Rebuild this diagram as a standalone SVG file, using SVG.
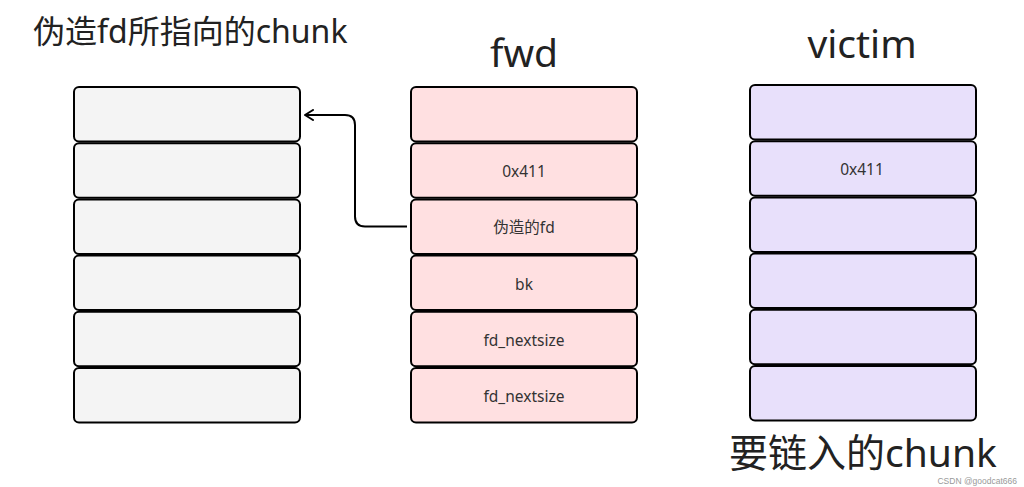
<svg xmlns="http://www.w3.org/2000/svg" width="1024" height="487" viewBox="0 0 1024 487">
<style>
.cell{stroke:#000;stroke-width:2;}
.l{fill:#f4f4f4;}
.f{fill:#ffe0e1;}
.v{fill:#e8e0fb;}
.t{font-family:"Noto Sans","Noto Sans CJK SC",sans-serif;fill:#222;}
.c{font-family:"Noto Sans","Noto Sans CJK SC",sans-serif;font-size:15.5px;fill:#333;text-anchor:middle;}
.conn{fill:none;stroke:#000;stroke-width:2;}
</style>
<defs>
<marker id="arr" markerWidth="12" markerHeight="12" refX="10" refY="6" orient="auto" markerUnits="userSpaceOnUse">
<path d="M2,1 L10,6 L2,11" fill="none" stroke="#000" stroke-width="2" stroke-linecap="round" stroke-linejoin="round"/>
</marker>
</defs>
<rect width="1024" height="487" fill="#fff"/>
<text class="t" x="33" y="43" font-size="32">伪造fd所指向的chunk</text>
<text class="t" x="524" y="67" font-size="39" text-anchor="middle">fwd</text>
<text class="t" x="862" y="58" font-size="39" text-anchor="middle">victim</text>
<text class="t" x="729" y="467" font-size="39">要链入的chunk</text>
<text x="1017" y="484" font-family="Liberation Sans,sans-serif" font-size="8.5" fill="#999" text-anchor="end">CSDN @goodcat666</text>

<g id="left">
<rect class="cell l" x="74" y="87" width="226" height="54.5" rx="5"/>
<rect class="cell l" x="74" y="143.2" width="226" height="54.5" rx="5"/>
<rect class="cell l" x="74" y="199.4" width="226" height="54.5" rx="5"/>
<rect class="cell l" x="74" y="255.6" width="226" height="54.5" rx="5"/>
<rect class="cell l" x="74" y="311.8" width="226" height="54.5" rx="5"/>
<rect class="cell l" x="74" y="368" width="226" height="54.5" rx="5"/>
</g>
<g id="fwd">
<rect class="cell f" x="411" y="87" width="226" height="54.5" rx="5"/>
<rect class="cell f" x="411" y="143.2" width="226" height="54.5" rx="5"/>
<rect class="cell f" x="411" y="199.4" width="226" height="54.5" rx="5"/>
<rect class="cell f" x="411" y="255.6" width="226" height="54.5" rx="5"/>
<rect class="cell f" x="411" y="311.8" width="226" height="54.5" rx="5"/>
<rect class="cell f" x="411" y="368" width="226" height="54.5" rx="5"/>
<text class="c" x="524" y="177">0x411</text>
<text class="c" x="524" y="233">伪造的fd</text>
<text class="c" x="524" y="290">bk</text>
<text class="c" x="524" y="346">fd_nextsize</text>
<text class="c" x="524" y="402">fd_nextsize</text>
</g>
<g id="victim">
<rect class="cell v" x="750" y="85" width="226" height="54.5" rx="5"/>
<rect class="cell v" x="750" y="141.2" width="226" height="54.5" rx="5"/>
<rect class="cell v" x="750" y="197.4" width="226" height="54.5" rx="5"/>
<rect class="cell v" x="750" y="253.6" width="226" height="54.5" rx="5"/>
<rect class="cell v" x="750" y="309.8" width="226" height="54.5" rx="5"/>
<rect class="cell v" x="750" y="366" width="226" height="54.5" rx="5"/>
<text class="c" x="862" y="175">0x411</text>
</g>
<g id="connectors">
<path class="conn" d="M407,226.5 H365 Q355,226.5 355,216.5 V125 Q355,115 345,115 H305" marker-end="url(#arr)"/>
</g>
</svg>
